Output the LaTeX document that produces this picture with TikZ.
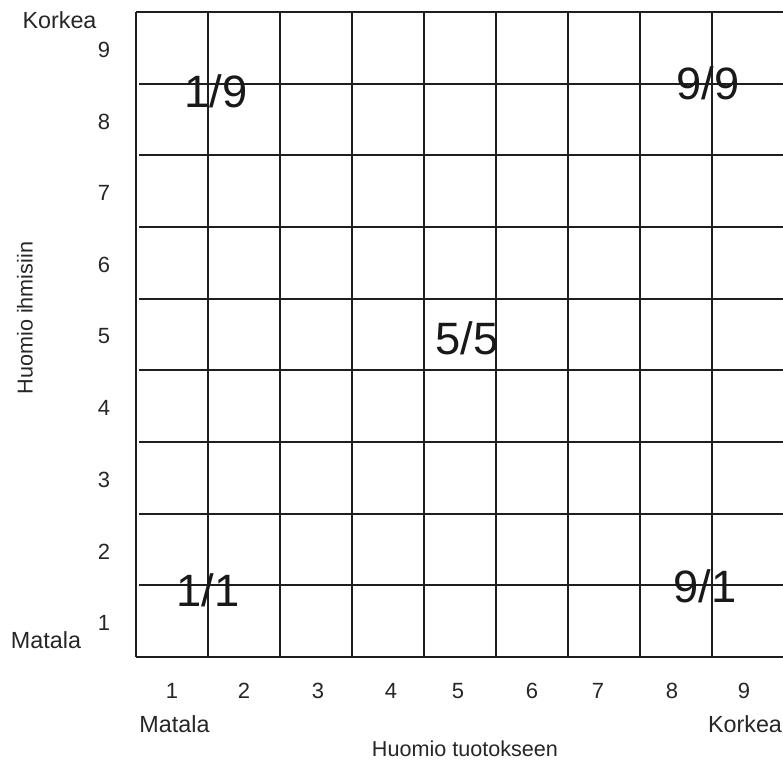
\documentclass[tikz,border=0pt]{standalone}
\usepackage{fontspec}
\setmainfont{Liberation Sans}
\usetikzlibrary{positioning}
\tikzset{
  gridline/.style={line width=1.5pt, draw=black!88},
  ratio/.style={font=\fontsize{34}{36}\selectfont, inner sep=0pt, text=black!90},
  tick/.style={font=\fontsize{16.5}{18}\selectfont, inner sep=0pt, text=black!85},
  level/.style={font=\fontsize{17.5}{20}\selectfont, inner sep=0pt, text=black!85},
  axistitle/.style={font=\fontsize{16.2}{18}\selectfont, inner sep=0pt, text=black!85},
}

\begin{document}
\begin{tikzpicture}[x=0.75pt, y=-0.75pt]
\useasboundingbox (0,0) rectangle (783,760);
% grid
\foreach \i in {0,...,9} \draw[gridline] (136+72*\i,12) -- (136+72*\i,657);
\draw[gridline] (136,12) -- (784,12);
\draw[gridline] (136,657) -- (784,657);
\foreach \j in {1,...,8} \draw[gridline] (139,12+71.67*\j) -- (784,12+71.67*\j);
% scale numbers
\foreach \n in {1,...,9} \node[tick] (y\n) at (104,694.8-71.67*\n) {\n};
\foreach \n/\px in {1/172,2/244,3/318,4/391,5/458,6/532,7/598,8/672,9/744}
  \node[tick] (x\n) at (\px,691) {\n};
% ends of the scales
\node[level] (yhigh) at (59.5,20) {Korkea};
\node[level] (ylow) at (46,640) {Matala};
\node[level] (xlow) at (174.5,724) {Matala};
\node[level] (xhigh) at (745,724) {Korkea};
\node[axistitle] (xtitle) at (465,749) {Huomio tuotokseen};
\node[axistitle, rotate=90] (ytitle) at (25,318) {Huomio ihmisiin};
% styles
\node[ratio] (r19) at (216,91) {1/9};
\node[ratio] (r99) at (708,83) {9/9};
\node[ratio] (r55) at (467,338) {5/5};
\node[ratio] (r11) at (208,590) {1/1};
\node[ratio] (r91) at (705,586) {9/1};
\end{tikzpicture}
\end{document}
